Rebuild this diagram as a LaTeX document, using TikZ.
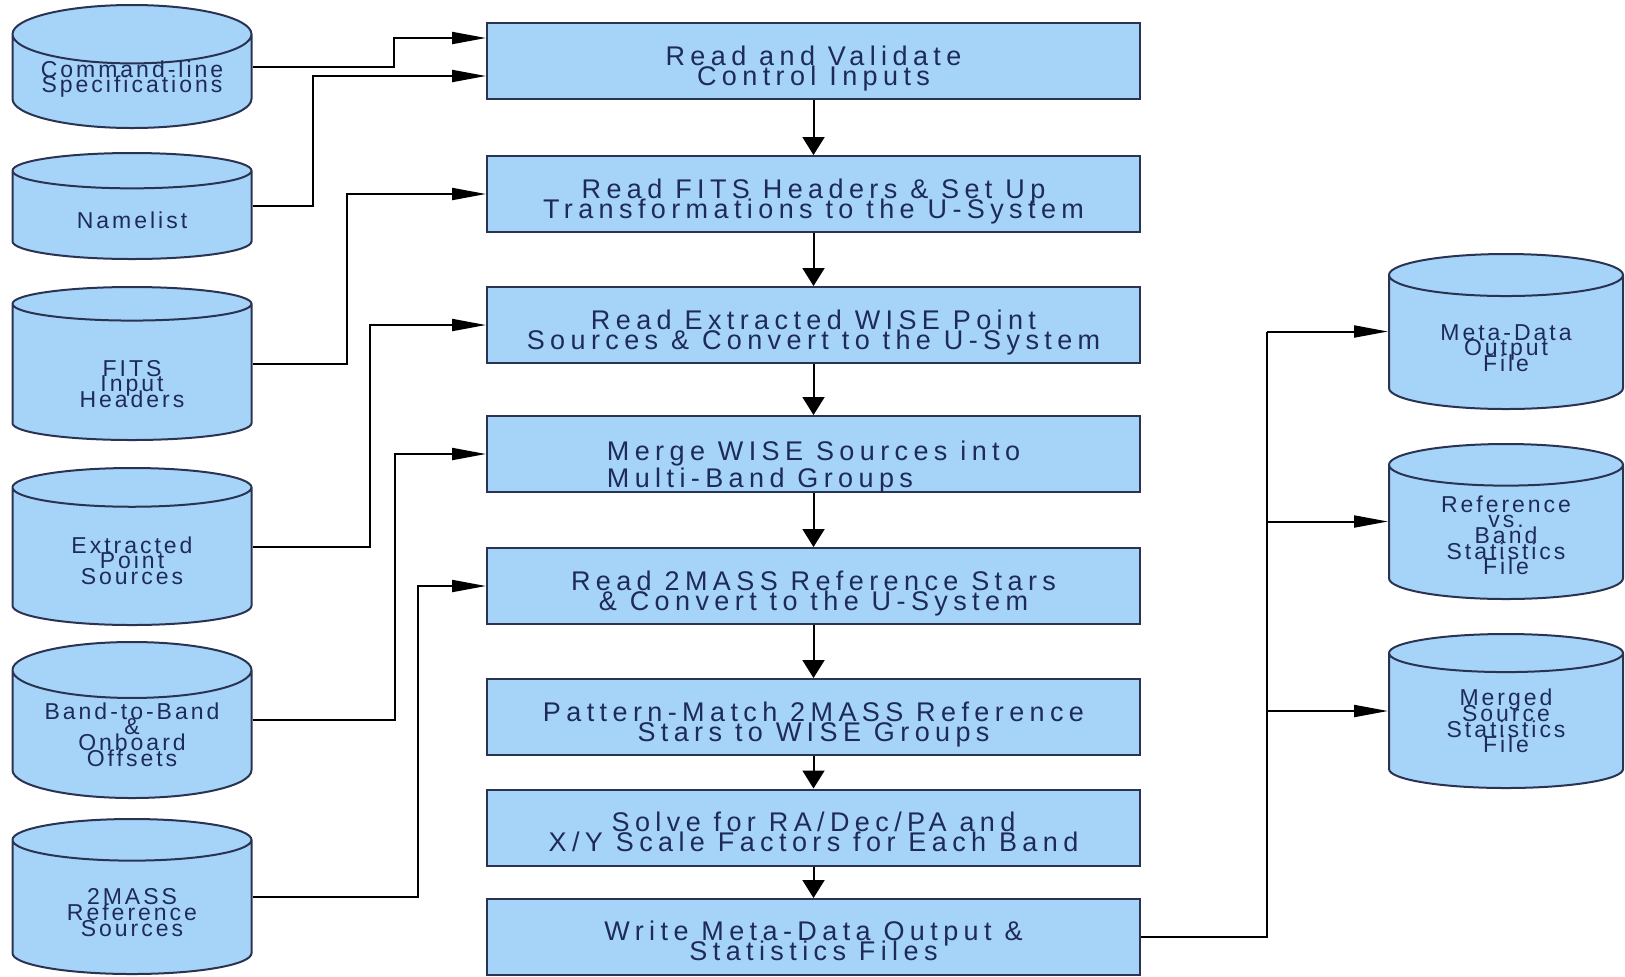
\documentclass[tikz,border=0pt]{standalone}
\usepackage{fontspec}
\setmainfont{Liberation Sans}
\usepackage{xcolor}
\definecolor{wisebg}{HTML}{A6D4F8}
\definecolor{wiseln}{HTML}{2A3452}
\definecolor{wisetx}{HTML}{1E2A5A}
\usepackage{tikz}
\usetikzlibrary{arrows.meta,positioning,shapes.geometric,calc}
\newcommand\tightlines{\setlength{\lineskiplimit}{-20pt}}

\begin{document}
\begin{tikzpicture}[x=0.5pt,y=-0.5pt,
  procbox/.style={draw=wiseln,line width=1pt,fill=wisebg,text=wisetx,
    minimum width=326.5pt,minimum height=38pt,inner sep=0pt,align=center,
    text height=24pt,text depth=0pt,
    font=\fontsize{13.5}{9.8}\selectfont\tightlines\addfontfeature{LetterSpace=20}},
  datafile/.style={cylinder,shape border rotate=90,aspect=0.32,draw=wiseln,
    line width=1pt,fill=wisebg,text=wisetx,minimum width=119.5pt,inner sep=0pt,
    align=center,anchor=shape center,
    font=\fontsize{11.5}{7.8}\selectfont\tightlines\addfontfeature{LetterSpace=13}},
  flow/.style={-{Triangle[length=9pt,width=11pt]},line width=1pt},
  feed/.style={-{Triangle[length=17pt,width=6pt]},line width=1pt}]
\path[use as bounding box] (0,0) rectangle (1625,976);

% processing steps
\node[procbox] (read)  at (813.5,61)  {Read and Validate\\Control Inputs};
\node[procbox] (hdrs)  at (813.5,194) {Read FITS Headers \& Set Up\\Transformations to the U-System};
\node[procbox] (srcs)  at (813.5,325) {Read Extracted WISE Point\\Sources \& Convert to the U-System};
\node[procbox,align=left,text height=33.6pt,
  font=\fontsize{13.5}{13.5}\selectfont\tightlines\addfontfeature{LetterSpace=20}]
  (merge) at (813.5,454) {Merge WISE Sources into\\Multi-Band Groups};
\node[procbox] (refs)  at (813.5,586) {Read 2MASS Reference Stars\\\& Convert to the U-System};
\node[procbox] (match) at (813.5,717) {Pattern-Match 2MASS Reference\\Stars to WISE Groups};
\node[procbox] (solve) at (813.5,827.5) {Solve for RA/Dec/PA and\\X/Y Scale Factors for Each Band};
\node[procbox,text height=23pt] (write) at (813.5,937) {Write Meta-Data Output \&\\Statistics Files};

% input files
\node[datafile,minimum height=61.5pt,text height=13.5pt] (cmd) at (132,66.5) {Command-line\\Specifications};
\node[datafile,minimum height=53pt,text height=13pt] (namelist) at (132,206) {Namelist};
\node[datafile,minimum height=76.5pt,text height=35pt] (fits) at (132,363.5) {FITS\\Input\\Headers};
\node[datafile,minimum height=78.5pt,text height=27.8pt] (extr) at (132,546.5) {Extracted\\Point\\Sources};
\node[datafile,minimum height=78pt] (band) at (132,720) {Band-to-Band\\\&\\Onboard\\Offsets};
\node[datafile,minimum height=77.5pt,text height=28.8pt] (twomass) at (132,896.5) {2MASS\\Reference\\Sources};

% output files
\node[datafile,minimum width=117pt,minimum height=77.5pt,text height=28.8pt] (meta) at (1506,331.5) {Meta-Data\\Output\\File};
\node[datafile,minimum width=117pt,minimum height=77.5pt,text height=42.4pt] (refstat) at (1506,521.5) {Reference\\vs.\\Band\\Statistics\\File};
\node[datafile,minimum width=117pt,minimum height=77pt] (merged) at (1506,711) {Merged\\Source\\Statistics\\File};

% main flow
\foreach \a/\b in {read/hdrs,hdrs/srcs,srcs/merge,merge/refs,refs/match,match/solve,solve/write}
  \draw[flow] (\a.south) -- (\b.north);

% inputs
\draw[feed] (cmd.shape center -| cmd.east) -- ++(141,0) |- ([yshift=11.5pt]read.west);
\draw[feed] (namelist.shape center -| namelist.east) -- ++(60,0) |- ([yshift=-7.5pt]read.west);
\draw[feed] (fits.shape center -| fits.east) -- ++(94,0) |- (hdrs.west);
\draw[feed] (extr.shape center -| extr.east) -- ++(117,0) |- (srcs.west);
\draw[feed] (band.shape center -| band.east) -- ++(142,0) |- (merge.west);
\draw[feed] (twomass.shape center -| twomass.east) -- ++(165,0) |- (refs.west);

% outputs
\coordinate (bus) at (1267,0);
\draw[line width=1pt] (write.east) -| (bus |- meta.shape center);
\foreach \f in {meta,refstat,merged}
  \draw[feed] (bus |- \f.shape center) -- (\f.shape center -| \f.west);
\end{tikzpicture}
\end{document}
